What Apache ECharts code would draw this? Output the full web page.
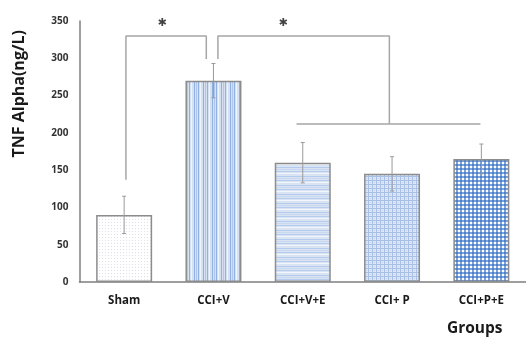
<!DOCTYPE html>
<html>
<head>
<meta charset="utf-8">
<script src="https://cdn.jsdelivr.net/npm/echarts@6/dist/echarts.min.js"></script>
<style>html,body{margin:0;padding:0;background:#fff}#c{width:526px;height:340px}</style>
</head>
<body>
<div id="c"></div>
<script>
// ---- data ----
const categories = ['Sham', 'CCI+V', 'CCI+V+E', 'CCI+ P', 'CCI+P+E'];
const values = [90, 270, 160, 145, 165];
const errors = [25, 23, 27, 23, 20];
const yTicks = [0, 50, 100, 150, 200, 250, 300, 350];
// significance brackets in data space: [categoryPosition, value]
const bracketLeft = [[0.02, 137], [0.02, 330], [0.92, 330], [0.92, 299]];
const bracketRight = [[1.05, 299], [1.05, 330], [2.97, 330], [2.97, 212]];
const bracketBase = [[1.93, 212], [3.99, 212]];
const stars = [[0.425, 347], [1.78, 347]];

// ---- patterns ----
function mk(w, h, draw) {
  const c = document.createElement('canvas');
  c.width = w; c.height = h;
  const g = c.getContext('2d');
  draw(g, w, h);
  return { image: c, repeat: 'repeat' };
}
const patterns = [
  mk(3, 3, (g) => { g.fillStyle = '#ffffff'; g.fillRect(0,0,3,3); g.fillStyle = '#dde1e7'; g.fillRect(0,0,1,1); }),
  mk(9, 4, (g) => { g.fillStyle = '#d5e0f0'; g.fillRect(0,0,9,4); g.fillStyle = '#8fb1e3'; g.fillRect(0,0,1,4); g.fillRect(5,0,1,4); g.fillStyle = '#f0f4fa'; g.fillRect(2,0,1,4); g.fillStyle='#b0c6ea'; g.fillRect(7,0,1,4); }),
  mk(4, 9, (g) => { g.fillStyle = '#d9e3f2'; g.fillRect(0,0,4,9); g.fillStyle = '#b3cbee'; g.fillRect(0,0,4,1); g.fillRect(0,5,4,1); g.fillStyle = '#f0f4fb'; g.fillRect(0,2,4,1); g.fillStyle='#c8d8f0'; g.fillRect(0,7,4,1); }),
  mk(4, 4, (g) => { g.fillStyle = '#dfe7f4'; g.fillRect(0,0,4,4); g.fillStyle = '#a8c0e6'; g.fillRect(0,0,4,1); g.fillRect(0,0,1,4); g.fillStyle='#c3d3ee'; g.fillRect(2,2,1,1); }),
  mk(4, 4, (g) => { g.fillStyle = '#ffffff'; g.fillRect(0,0,4,4); g.fillStyle = '#7aa3dc'; g.fillRect(0,0,4,2); g.fillRect(0,0,2,4); g.fillStyle = '#4f81c9'; g.fillRect(0,0,2,2); })
];

const chart = echarts.init(document.getElementById('c'), null, { renderer: 'canvas' });
const lineStyle = { color: '#a6a6a6', width: 1.5 };
function bracketSeries(d) {
  return { type: 'line', xAxisIndex: 1, data: d, symbol: 'none', lineStyle: lineStyle, silent: true, z: 5 };
}
const FF = 'Open Sans';
chart.setOption({
  animation: false,
  grid: { left: 79.5, right: -10, top: 21, bottom: 58 },
  xAxis: [
    {
      type: 'category', data: categories,
      axisLine: { lineStyle: { color: '#7f7f7f', width: 1.5 } },
      axisTick: { show: false },
      axisLabel: { margin: 13, fontFamily: FF, fontWeight: 'bold', fontSize: 11.5, color: '#1a1a1a' }
    },
    { type: 'value', min: -0.5, max: 4.5, show: false }
  ],
  yAxis: {
    type: 'value', min: 0, max: 350, interval: 50,
    axisLine: { show: true, onZero: false, lineStyle: { color: '#7f7f7f', width: 1.5 } },
    axisTick: { show: false },
    splitLine: { show: false },
    axisLabel: { margin: 11, fontFamily: FF, fontWeight: 'bold', fontSize: 10, color: '#333',
      formatter: (v) => yTicks.indexOf(v) >= 0 ? String(v) : '' }
  },
  series: [
    {
      type: 'bar', barWidth: 56,
      data: values.map((v, i) => ({ value: v, itemStyle: { color: patterns[i], borderColor: '#8c8c8c', borderWidth: 1.5 } }))
    },
    {
      type: 'custom', z: 10,
      data: values.map((v, i) => [i, v - errors[i], v + errors[i]]),
      renderItem: (params, api) => {
        const lo = api.coord([api.value(0), api.value(1)]);
        const hi = api.coord([api.value(0), api.value(2)]);
        const s = { stroke: '#9a9a9a', lineWidth: 1 };
        return { type: 'group', children: [
          { type: 'line', shape: { x1: lo[0], y1: lo[1], x2: hi[0], y2: hi[1] }, style: s },
          { type: 'line', shape: { x1: hi[0]-2, y1: hi[1], x2: hi[0]+2, y2: hi[1] }, style: s },
          { type: 'line', shape: { x1: lo[0]-2, y1: lo[1], x2: lo[0]+2, y2: lo[1] }, style: s }
        ]};
      }
    },
    bracketSeries(bracketLeft),
    bracketSeries(bracketRight),
    bracketSeries(bracketBase),
    {
      type: 'scatter', xAxisIndex: 1, data: stars, symbolSize: 0, clip: false, silent: true,
      label: { show: true, formatter: '\u2731', position: 'inside', offset: [0, 0], fontFamily: 'DejaVu Sans', fontWeight: 'bold', fontSize: 11, color: '#111' }
    }
  ],
  graphic: [
    { type: 'text', left: 11, top: 30, rotation: Math.PI / 2,
      style: { text: 'TNF Alpha(ng/L)', fontFamily: FF, fontWeight: 'bold', fontSize: 16, fill: '#1a1a1a' } },
    { type: 'text', left: 447, top: 321,
      style: { text: 'Groups', fontFamily: FF, fontWeight: 'bold', fontSize: 15.5, fill: '#1a1a1a' } }
  ]
});
</script>
</body>
</html>
